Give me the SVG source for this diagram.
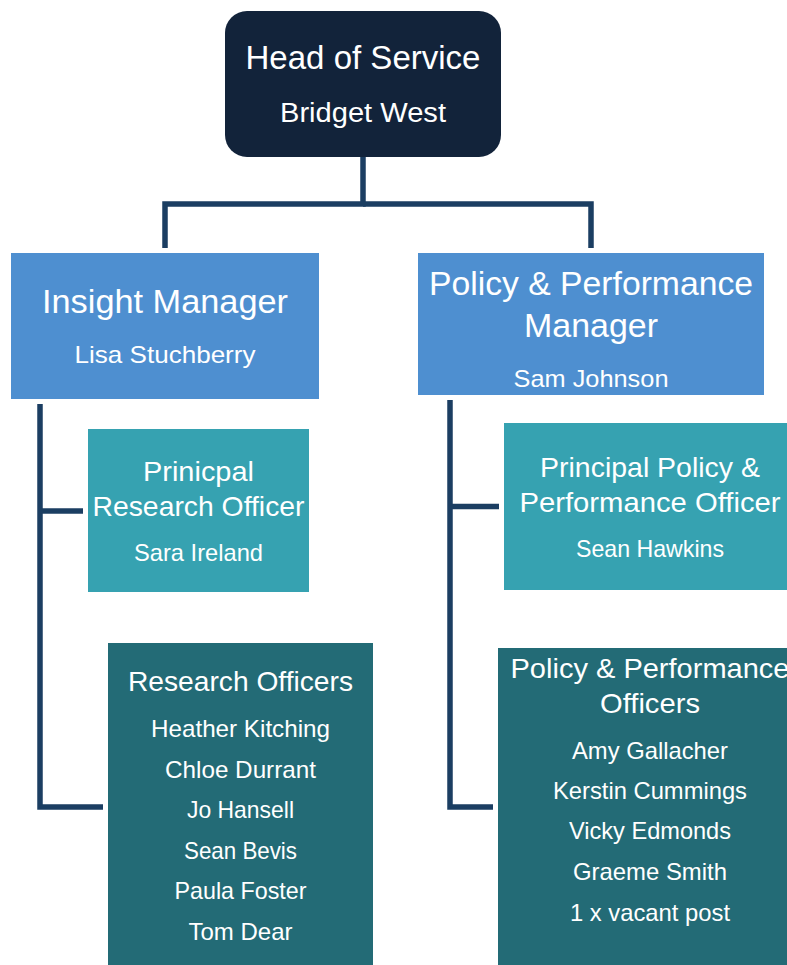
<svg xmlns="http://www.w3.org/2000/svg" width="787" height="965" viewBox="0 0 787 965">
<style>
.t{font-family:"Liberation Sans",Arial,sans-serif;fill:#ffffff;text-anchor:middle}
.h1{font-size:33px}
.h2{font-size:28px}
.n1{font-size:27px}
.n2{font-size:24px}
.c{fill:none;stroke:#1b3e62;stroke-width:5.5}
.head{fill:#12233a}
.mgr{fill:#4e8fd0}
.po{fill:#36a2b1}
.off{fill:#236b76}
</style>
<rect width="787" height="965" fill="#ffffff"/>
<g id="connectors">
<polyline class="c" points="363,157 363,204 165,204 165,248"/>
<polyline class="c" points="363,204 591,204 591,248"/>
<polyline class="c" points="40,404 40,807 103,807"/>
<line class="c" x1="40" y1="511" x2="83" y2="511"/>
<polyline class="c" points="450,400 450,807 493,807"/>
<line class="c" x1="450" y1="506.5" x2="499" y2="506.5"/>
</g>
<g id="head">
<rect class="head" x="225" y="11" width="276" height="146" rx="22"/>
<text class="t h1" x="363" y="69" textLength="235" lengthAdjust="spacingAndGlyphs">Head of Service</text>
<text class="t n1" x="363" y="122" textLength="166" lengthAdjust="spacingAndGlyphs">Bridget West</text>
</g>
<g id="insight-manager">
<rect class="mgr" x="11" y="253" width="308" height="146"/>
<text class="t h1" x="165" y="313" textLength="246" lengthAdjust="spacingAndGlyphs">Insight Manager</text>
<text class="t n2" x="165" y="363" textLength="181" lengthAdjust="spacingAndGlyphs">Lisa Stuchberry</text>
</g>
<g id="pp-manager">
<rect class="mgr" x="418" y="253" width="346" height="142"/>
<text class="t h1" x="591" y="295" textLength="324" lengthAdjust="spacingAndGlyphs">Policy &amp; Performance</text>
<text class="t h1" x="591" y="337" textLength="134" lengthAdjust="spacingAndGlyphs">Manager</text>
<text class="t n2" x="591" y="387" textLength="155" lengthAdjust="spacingAndGlyphs">Sam Johnson</text>
</g>
<g id="principal-research-officer">
<rect class="po" x="88" y="429" width="221" height="163"/>
<text class="t h2" x="198.5" y="481" textLength="111" lengthAdjust="spacingAndGlyphs">Prinicpal</text>
<text class="t h2" x="198.5" y="516" textLength="212" lengthAdjust="spacingAndGlyphs">Research Officer</text>
<text class="t n2" x="198.5" y="561" textLength="129" lengthAdjust="spacingAndGlyphs">Sara Ireland</text>
</g>
<g id="research-officers">
<rect class="off" x="108" y="643" width="265" height="330"/>
<text class="t h2" x="240.5" y="691" textLength="225" lengthAdjust="spacingAndGlyphs">Research Officers</text>
<text class="t n2" x="240.5" y="737" textLength="179" lengthAdjust="spacingAndGlyphs">Heather Kitching</text>
<text class="t n2" x="240.5" y="778" textLength="151" lengthAdjust="spacingAndGlyphs">Chloe Durrant</text>
<text class="t n2" x="240.5" y="818" textLength="107" lengthAdjust="spacingAndGlyphs">Jo Hansell</text>
<text class="t n2" x="240.5" y="859" textLength="113" lengthAdjust="spacingAndGlyphs">Sean Bevis</text>
<text class="t n2" x="240.5" y="899" textLength="132" lengthAdjust="spacingAndGlyphs">Paula Foster</text>
<text class="t n2" x="240.5" y="940" textLength="104" lengthAdjust="spacingAndGlyphs">Tom Dear</text>
</g>
<g id="principal-pp-officer">
<rect class="po" x="504" y="423" width="290" height="167"/>
<text class="t h2" x="650" y="477" textLength="220" lengthAdjust="spacingAndGlyphs">Principal Policy &amp;</text>
<text class="t h2" x="650" y="512" textLength="261" lengthAdjust="spacingAndGlyphs">Performance Officer</text>
<text class="t n2" x="650" y="557" textLength="148" lengthAdjust="spacingAndGlyphs">Sean Hawkins</text>
</g>
<g id="pp-officers">
<rect class="off" x="498" y="648" width="296" height="325"/>
<text class="t h2" x="650" y="678" textLength="279" lengthAdjust="spacingAndGlyphs">Policy &amp; Performance</text>
<text class="t h2" x="650" y="713" textLength="100" lengthAdjust="spacingAndGlyphs">Officers</text>
<text class="t n2" x="650" y="759" textLength="156" lengthAdjust="spacingAndGlyphs">Amy Gallacher</text>
<text class="t n2" x="650" y="799" textLength="194" lengthAdjust="spacingAndGlyphs">Kerstin Cummings</text>
<text class="t n2" x="650" y="839" textLength="162" lengthAdjust="spacingAndGlyphs">Vicky Edmonds</text>
<text class="t n2" x="650" y="880" textLength="154" lengthAdjust="spacingAndGlyphs">Graeme Smith</text>
<text class="t n2" x="650" y="921" textLength="160" lengthAdjust="spacingAndGlyphs">1 x vacant post</text>
</g>
</svg>
